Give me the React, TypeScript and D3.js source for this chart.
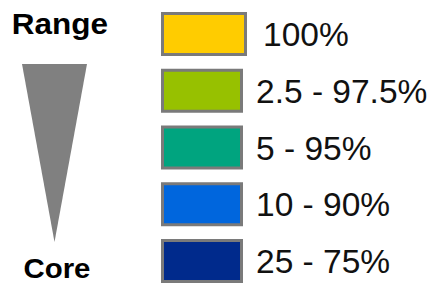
import React from "react";
import * as d3 from "d3";

const labels = ["100%", "2.5 - 97.5%", "5 - 95%", "10 - 90%", "25 - 75%"];
const colors = ["#FFCC00", "#97C100", "#00A47F", "#0066DD", "#002A8C"];
const axisTitles = ["Range", "Core"];

const W = 434;
const H = 284;

export default function App() {
  const y = d3.scaleBand<string>().domain(labels).range([12, 283]).paddingInner(0.2247);
  const bw = y.bandwidth();
  const tri = d3.line<[number, number]>()([
    [22, 64],
    [87, 64],
    [54.5, 242],
  ]) + "Z";
  return (
    <div style={{ position: "absolute", left: 0, top: 0 }}>
      <svg width={W} height={H} style={{ display: "block", fontFamily: "Arial, 'Liberation Sans', sans-serif" }}>
        <rect width={W} height={H} fill="#fff" />
        <text x={60} y={34} textAnchor="middle" fontWeight="bold" fontSize={30} transform="translate(60,0) scale(1.05,1) translate(-60,0)">
          {axisTitles[0]}
        </text>
        <path d={tri} fill="#808080" />
        <text x={57} y={278} textAnchor="middle" fontWeight="bold" fontSize={28} transform="translate(57,0) scale(1.05,1) translate(-57,0)">
          {axisTitles[1]}
        </text>
        {labels.map((l, i) => {
          const y0 = y(l)!;
          const w = i === 0 ? 86 : 82;
          return (
            <g key={l}>
              <rect x={162.5} y={y0 + 1.5} width={w - 3} height={bw - 3} fill={colors[i]} stroke="#7a7a7a" strokeWidth={3} />
              <text x={i === 0 ? 263 : 256} y={y0 + bw / 2 + 12} fontSize={33.5} fill="#111">
                {l}
              </text>
            </g>
          );
        })}
      </svg>
    </div>
  );
}
